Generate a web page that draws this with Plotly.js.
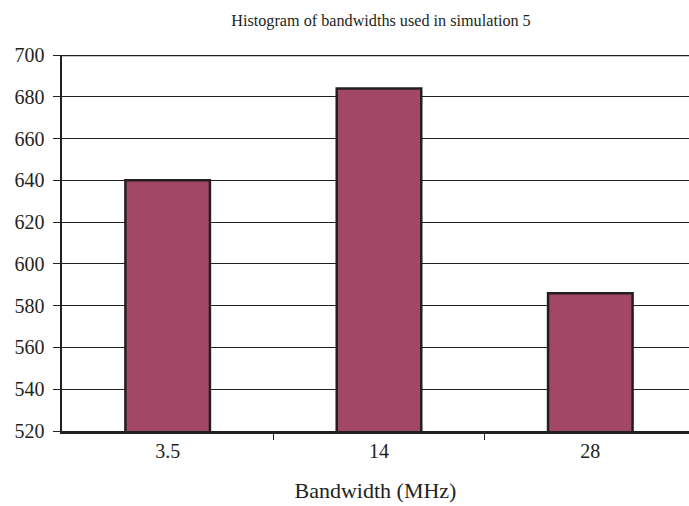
<!DOCTYPE html>
<html>
<head>
<meta charset="utf-8">
<script src="https://cdn.plot.ly/plotly-3.0.1.min.js"></script>
<style>html,body{margin:0;padding:0;overflow:hidden;background:#fff}</style>
</head>
<body>
<div id="chart" style="width:689px;height:506px"></div>
<script>
const categories = ['3.5', '14', '28'];
const counts = [640, 684, 586];
const yTicks = [520, 540, 560, 580, 600, 620, 640, 660, 680, 700];

const positions = categories.map((c, i) => i);
const boundaries = positions.slice(1).map(p => p - 0.5);

const font = 'Liberation Serif, Times New Roman, serif';
const data = [{
  type: 'bar',
  x: positions,
  y: counts,
  text: categories,
  marker: {color: '#A34766', line: {color: '#231f20', width: 2.5}},
  width: 0.4,
  textposition: 'none',
  hoverinfo: 'text+y'
}];
const layout = {
  width: 689, height: 506,
  margin: {l: 62, r: 0, t: 55, b: 75},
  paper_bgcolor: '#fff', plot_bgcolor: '#fff',
  showlegend: false,
  font: {family: font, color: '#231f20', size: 20},
  title: {text: 'Histogram of bandwidths used in simulation 5', font: {family: font, size: 16.2, color: '#231f20'},
          x: 381/689, xref: 'container', xanchor: 'center', y: 1 - 20/506, yref: 'container', yanchor: 'middle'},
  xaxis: {
    range: [-0.5, 2.467], tickmode: 'array', tickvals: positions, ticktext: categories, ticks: '',
    minor: {tickmode: 'array', tickvals: boundaries, ticks: 'outside', ticklen: 6, tickwidth: 1, tickcolor: '#231f20', showgrid: false},
    showline: true, linecolor: '#231f20', linewidth: 2.5, showgrid: false, zeroline: false,
    tickfont: {family: font, size: 20, color: '#231f20'},
    title: {text: 'Bandwidth (MHz)', font: {family: font, size: 22, color: '#231f20'}, standoff: 22}
  },
  yaxis: {
    range: [520, 700], tickvals: yTicks, ticks: 'outside', ticklen: 7, tickwidth: 1, tickcolor: '#231f20',
    ticklabelstandoff: 4,
    showline: true, linecolor: '#231f20', linewidth: 2.5, showgrid: true, gridcolor: '#231f20', gridwidth: 1,
    zeroline: false, tickfont: {family: font, size: 20, color: '#231f20'}
  },
  shapes: [{type: 'line', xref: 'paper', yref: 'y', x0: 0, x1: 1, y0: 700, y1: 700, line: {color: '#231f20', width: 2.5}}],
  bargap: 0.6
};
Plotly.newPlot('chart', data, layout, {displayModeBar: false, staticPlot: true});
</script>
</body>
</html>
